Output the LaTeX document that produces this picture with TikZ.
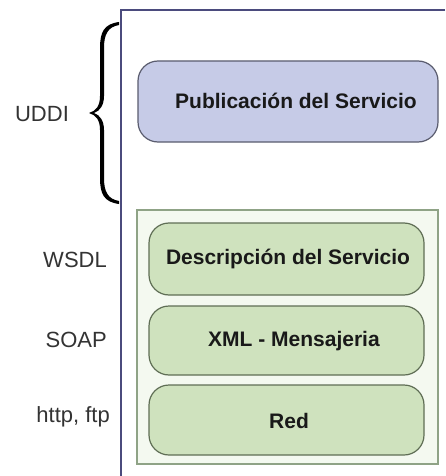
\documentclass[tikz,border=0pt]{standalone}
\usepackage{fontspec}
\setmainfont{Liberation Sans}
\definecolor{framecol}{HTML}{4B4B7D}
\definecolor{pubfill}{HTML}{C6CBE7}
\definecolor{pubdraw}{HTML}{5A5C6E}
\definecolor{layerfill}{HTML}{CFE2BE}
\definecolor{layerdraw}{HTML}{5F6E55}
\definecolor{stackfill}{HTML}{F4F9F0}
\definecolor{stackdraw}{HTML}{8FA386}
\begin{document}
\begin{tikzpicture}[x=1pt,y=-1pt,
  layerbox/.style={draw=layerdraw, fill=layerfill, line width=1.2pt, rounded corners=20pt},
  pubbox/.style={draw=pubdraw, fill=pubfill, line width=1.2pt, rounded corners=20pt},
  boxtext/.style={font=\fontsize{21}{24}\selectfont\bfseries, text=black!90},
  sidelabel/.style={font=\fontsize{22}{26}\selectfont, text=black!80, inner sep=0pt}]
\useasboundingbox (0,0) rectangle (445,476);
\fill[white] (0,0) rectangle (445,476);

% open frame of the protocol stack
\draw[framecol, line width=2pt] (445,10) -- (121,10) -- (121,476);

% publication layer
\draw[pubbox] (138,61) rectangle (438,142);
\node[boxtext] (pub) at (296,101) {Publicación del Servicio};

% lower stack container and its layers
\draw[draw=stackdraw, fill=stackfill, line width=1.5pt] (137,210) rectangle (438,464);
\draw[layerbox] (149,223) rectangle (424,295);
\node[boxtext] (desc) at (288,259) {Descripción del Servicio};
\draw[layerbox] (149,306) rectangle (424,375);
\node[boxtext] (xml) at (294,341) {XML - Mensajeria};
\draw[layerbox] (149,385) rectangle (424,455);
\node[boxtext] (red) at (289,421) {Red};

% curly brace grouping the publication layer
\fill[black]
  (119,22) .. controls (104,24) and (100,32) .. (100,48)
  -- (100,96) .. controls (100,106) and (96,111) .. (89,113)
  .. controls (96,115) and (100,120) .. (100,130)
  -- (100,178) .. controls (100,194) and (104,202) .. (119,204)
  -- (119,201) .. controls (108,199) and (104,192) .. (104,178)
  -- (104,130) .. controls (104,121) and (100,115) .. (94,113)
  .. controls (100,111) and (104,105) .. (104,96)
  -- (104,48) .. controls (104,34) and (108,27) .. (119,25) -- cycle;

% protocol names
\node[sidelabel] (uddi) at (42,114) {UDDI};
\node[sidelabel, anchor=east] (wsdl) at (107,260) {WSDL};
\node[sidelabel, anchor=east] (soap) at (107,340) {SOAP};
\node[sidelabel, anchor=east] (http) at (110,417) {http, ftp};
\end{tikzpicture}
\end{document}
